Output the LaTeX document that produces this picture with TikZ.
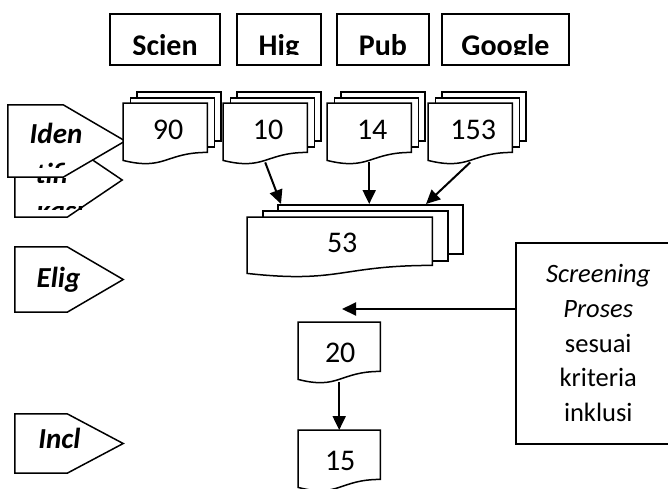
\documentclass[tikz,border=0pt]{standalone}
\usepackage{fontspec}
\setmainfont{Carlito}
\usetikzlibrary{arrows.meta,calc}

\tikzset{
  outline/.style={draw, fill=white, line width=1.5pt},
  srcbox/.style={outline, minimum height=51pt, inner sep=0pt},
  sheet/.style={outline, anchor=north west, inner sep=0pt, minimum width=84pt, minimum height=49pt},
  docarea/.style={anchor=north west, inner sep=0pt, minimum width=#1, minimum height=49pt},
  platearea/.style={inner sep=0pt},
  flow/.style={-{Triangle[length=14pt,width=13pt]}, line width=2pt},
  srctext/.style={font=\fontsize{30}{36}\selectfont\bfseries, anchor=base, inner sep=0pt},
  numtext/.style={font=\fontsize{30}{36}\selectfont, inner sep=0pt},
  stagetext/.style={font=\fontsize{29}{35}\selectfont\bfseries\itshape, anchor=base, inner sep=0pt},
}

\begin{document}
\begin{tikzpicture}[x=1pt,y=-1pt]
\useasboundingbox (0,0) rectangle (668,488);
\clip (0,0) rectangle (668,488);

% databases
\foreach \n/\cx/\w/\t in {scien/165/110/Scien, hig/279/84/Hig, pub/383/92/Pub, google/505.5/127/Google}{
  \node[srcbox, minimum width=\w pt] (\n) at (\cx,39.5) {};
  \begin{scope}
    \clip (\n.north west) rectangle ($(\n.south east)+(0,-11.5)$);
    \node[srctext] (\n t) at ($(\n.south)+(0,-10.5)$) {\t};
  \end{scope}
}

% stage markers
\node[platearea, minimum width=107pt, minimum height=74pt] (iden2) at (68.5,180) {};
\node[platearea, minimum width=117pt, minimum height=72pt] (iden) at (66.5,141) {};
\node[platearea, minimum width=108pt, minimum height=65pt] (elig) at (69,279.5) {};
\node[platearea, minimum width=108pt, minimum height=59pt] (incl) at (69,443.5) {};
\foreach \n/\tip in {iden2/55, iden/62, elig/56, incl/56}
  \draw[outline] (\n.north west) -- ($(\n.north east)+(-\tip,0)$) -- (\n.east)
    -- ($(\n.south east)+(-\tip,0)$) -- (\n.south west) -- cycle;
\node[stagetext] (idenT) at (56,143) {Iden}; % Iden label
\begin{scope}
  \clip (20,161) rectangle (110,167) (20,177.5) rectangle (110,182.5);
  \node[stagetext] (idenT2) at (52,183) {tifi};
\end{scope}
\begin{scope}
  \clip (20,206.5) rectangle (110,209.5);
  \node[stagetext] (idenT3) at (60,220) {kasi};
\end{scope}
\node[stagetext] (eligT) at (58.5,287) {Elig}; % Elig label
\node[stagetext] (inclT) at (59.5,448) {Incl}; % Incl label

% records per database
\foreach \n/\x/\v in {d90/123/90, d10/223/10, d14/327/14, d153/428/153}{
  \node[sheet] (\n c) at (\x+13,91) {};
  \node[sheet] (\n b) at (\x+6.5,97) {};
  \node[docarea=84pt] (\n) at (\x,103) {};
  \draw[outline] (\n.north west) -- (\n.north east) -- (\n.south east)
    .. controls (\n.south) and ($(\n.south)+(0,18.5)$) .. ($(\n.south west)+(0,8)$) -- cycle;
  \node[numtext] (\n t) at ($(\n.center)+(3,2.5)$) {\v};
  \coordinate (\n o) at ($(\n.south)+(0,10)$);
}

% merged records
\node[sheet, minimum width=185pt] (d53c) at (277,204) {};
\node[sheet, minimum width=185pt, minimum height=50pt] (d53b) at (262,210) {};
\node[docarea=185pt, minimum height=48pt] (d53) at (247,217) {};
\draw[outline] (d53.north west) -- (d53.north east) -- (d53.south east)
  .. controls (d53.south) and ($(d53.south)+(0,18.3)$) .. ($(d53.south west)+(0,8)$) -- cycle;
\node[numtext] (d53t) at ($(d53.center)+(2.5,2)$) {53};

\coordinate (in10) at ($(d53c.north west)+(4,0)$);
\coordinate (in14) at (d14o |- d53c.north);
\coordinate (in153) at ($(d53c.north west)+(149,0)$);
\draw[flow] (d10o) -- (in10);
\draw[flow] (d14o) -- (in14);
\draw[flow] (d153o) -- (in153);

% screening
\node[docarea=82pt] (d20) at (298,322) {};
\draw[outline] (d20.north west) -- (d20.north east) -- (d20.south east)
  .. controls (d20.south) and ($(d20.south)+(0,18.6)$) .. ($(d20.south west)+(0,8)$) -- cycle;
\node[numtext] (d20t) at ($(d20.center)+(1,6)$) {20};
\node[docarea=82pt] (d15) at (298,430) {};
\draw[outline] (d15.north west) -- (d15.north east) -- (d15.south east)
  .. controls (d15.south) and ($(d15.south)+(0,18.6)$) .. ($(d15.south west)+(0,8)$) -- cycle;
\node[numtext] (d15t) at ($(d15.center)+(1,6)$) {15};
\coordinate (d20o) at ($(d20.south)+(0,11)$);
\draw[flow] (d20o) -- (d15.north);

\node[outline, anchor=north west, minimum width=165pt, minimum height=201pt, align=center,
  font=\fontsize{26.5}{34.7}\selectfont] (screen) at (515,242)
  {\textit{Screening}\\ \textit{Proses}\\ sesuai\\ kriteria\\ inklusi};
\coordinate (scrfrom) at ($(screen.north west)+(0,67)$);
\coordinate (scrto) at (342,309);
\draw[flow] (scrfrom) -- (scrto);

\end{tikzpicture}
\end{document}
